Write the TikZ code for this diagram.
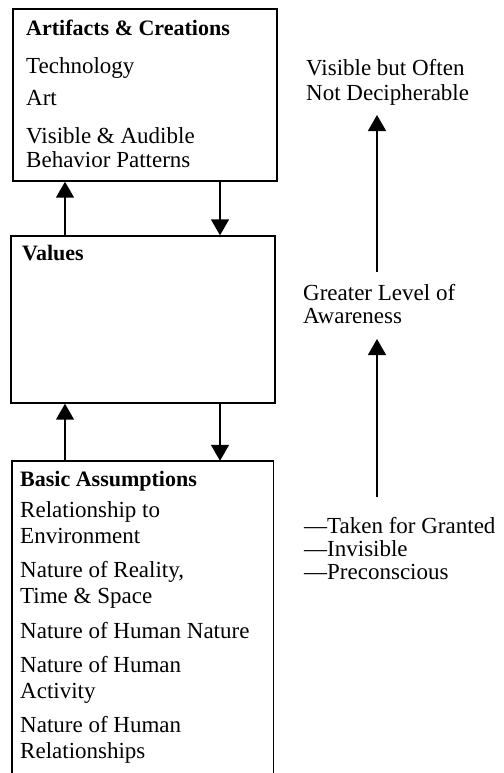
\documentclass[tikz,border=0pt]{standalone}
\usepackage{fontspec}
\setmainfont{Liberation Serif}
\usetikzlibrary{arrows.meta}
\begin{document}
\begin{tikzpicture}[x=1pt,y=-1pt,
  box/.style={draw, line width=1.4pt, rectangle, inner sep=0pt},
  openbox/.style={rectangle, inner sep=0pt},
  txt/.style={anchor=base west, inner sep=0pt, font=\fontsize{23}{27}\selectfont},
  hd/.style={anchor=base west, inner sep=0pt, font=\fontsize{22}{27}\selectfont\bfseries},
  arr/.style={line width=1.5pt, -{Triangle[width=18pt,length=16pt]}}]
\useasboundingbox (0,0) rectangle (503,773);

% boxes
\node[box, minimum width=264pt, minimum height=172pt] (art) at (145,95) {};
\node[box, minimum width=264pt, minimum height=167pt] (val) at (143,319.5) {};
\node[openbox, minimum width=261pt, minimum height=312pt] (bas) at (142.5,617) {};
\draw[line width=1.4pt] (bas.south west) -- (bas.north west) -- (bas.north east) -- (bas.south east);

% box 1 texts
\node[hd]  (a0) at (26,36)  {Artifacts \& Creations};
\node[txt] (a1) at (26,74)  {Technology};
\node[txt] (a2) at (26,106) {Art};
\node[txt] (a3) at (26,143) {Visible \& Audible};
\node[txt] (a4) at (26,167) {Behavior Patterns};

% values
\node[hd] (v0) at (22,260) {Values};

% basic assumptions
\node[hd]  (b0) at (20,486) {Basic Assumptions};
\node[txt] (b1) at (20,517) {Relationship to};
\node[txt] (b2) at (20,543) {Environment};
\node[txt] (b3) at (20,577) {Nature of Reality,};
\node[txt] (b4) at (20,603) {Time \& Space};
\node[txt] (b5) at (20,638) {Nature of Human Nature};
\node[txt] (b6) at (20,672) {Nature of Human};
\node[txt] (b7) at (20,698) {Activity};
\node[txt] (b8) at (20,732) {Nature of Human};
\node[txt] (b9) at (20,758) {Relationships};

% connectors between boxes
\coordinate (xl) at (65,0);
\coordinate (xr) at (220,0);
\draw[arr] (val.north -| xl) -- (art.south -| xl);
\draw[arr] (art.south -| xr) -- (val.north -| xr);
\draw[arr] (bas.north -| xl) -- (val.south -| xl);
\draw[arr] (val.south -| xr) -- (bas.north -| xr);

% right column
\node[txt] (r1) at (306,76)  {Visible but Often};
\node[txt] (r2) at (306,101) {Not Decipherable};
\node[txt] (g1) at (303,300) {Greater Level of};
\node[txt] (g2) at (303,323) {Awareness};
\node[txt] (t1) at (304,533) {—Taken for Granted};
\node[txt] (t2) at (304,556) {—Invisible};
\node[txt] (t3) at (304,579) {—Preconscious};

\coordinate (u1s) at (377,272);
\coordinate (u1e) at (377,115);
\coordinate (u2s) at (377,497);
\coordinate (u2e) at (377,339);
\draw[arr] (u1s) -- (u1e);
\draw[arr] (u2s) -- (u2e);
\end{tikzpicture}
\end{document}
